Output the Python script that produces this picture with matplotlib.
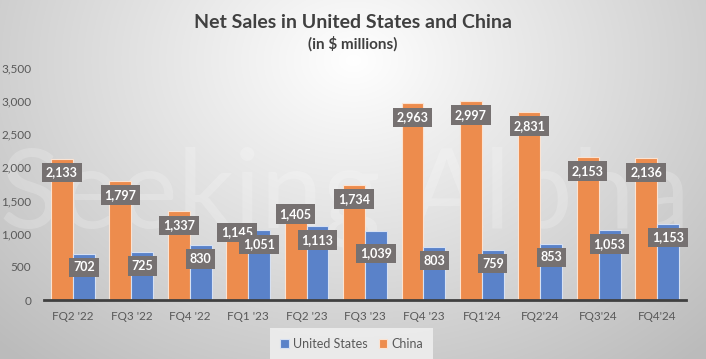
import numpy as np
import matplotlib.pyplot as plt

# data
quarters = ["FQ2 '22", "FQ3 '22", "FQ4 '22", "FQ1 '23", "FQ2 '23", "FQ3 '23",
            "FQ4 '23", "FQ1'24", "FQ2'24", "FQ3'24", "FQ4'24"]
china = [2133, 1797, 1337, 1145, 1405, 1734, 2963, 2997, 2831, 2153, 2136]
united_states = [702, 725, 830, 1051, 1113, 1039, 803, 759, 853, 1053, 1153]

orange = "#ED8C4D"
blue = "#5A82C9"
label_bg = "#767171"

plt.rcParams["font.family"] = ["Lato", "DejaVu Sans"]

fig = plt.figure(figsize=(7.06, 3.59), dpi=100)

# background gradient
bg = fig.add_axes([0, 0, 1, 1], zorder=-10)
yy, xx = np.mgrid[0:359, 0:706]
d = np.sqrt(((xx - 353) / 420) ** 2 + ((yy - 60) / 330) ** 2)
shade = 1.0 - 0.22 * np.clip(d, 0, 1.2)
bg.imshow(np.dstack([shade, shade, shade]), aspect="auto", extent=[0, 1, 0, 1])
bg.set_axis_off()
bg.text(0.0, 0.45, "Seeking Alpha", fontsize=80, color="white", alpha=0.2,
        transform=bg.transAxes, va="center")

ax = fig.add_axes([0.062, 0.164, 0.910, 0.647])
ax.patch.set_alpha(0)

x = np.arange(len(quarters))
w = 0.375
b1 = ax.bar(x - w / 2, china, w, color=orange, edgecolor="#FBE3D2", linewidth=0.8, label="China")
b2 = ax.bar(x + w / 2, united_states, w, color=blue, edgecolor="#D6E0F2", linewidth=0.8, label="United States")

# label offsets below bar top (points); a few were nudged in the original
nudge = {("China", 3): -6, ("China", 4): -5, ("US", 5): -16}
for name, bars, vals in [("China", b1, china), ("US", b2, united_states)]:
    for i, (r, v) in enumerate(zip(bars, vals)):
        ax.annotate(f"{v:,}", (r.get_x() + r.get_width() / 2, v),
                    xytext=(0, nudge.get((name, i), -10)), textcoords="offset points",
                    ha="center", va="center", color="white", fontsize=9,
                    fontweight="bold", zorder=5,
                    bbox=dict(boxstyle="square,pad=0.3", fc=label_bg, ec="none"))

ax.set_xlim(-0.5, len(quarters) - 0.5)
ax.set_ylim(0, 3500)
ax.set_yticks(range(0, 3501, 500))
ax.set_yticklabels([f"{t:,}" for t in range(0, 3501, 500)])
ax.set_xticks(x)
ax.set_xticklabels(quarters)
ax.tick_params(axis="both", length=0, colors="#595959", labelsize=8.5)
ax.tick_params(axis="y", pad=9)
ax.tick_params(axis="x", pad=8)
for s in ["top", "right", "left"]:
    ax.spines[s].set_visible(False)
ax.spines["bottom"].set_color("#404040")
ax.spines["bottom"].set_linewidth(2)

fig.text(0.5, 0.938, "Net Sales in United States and China", ha="center", va="center",
         fontsize=14, fontweight="bold", color="#404040")
fig.text(0.5, 0.878, "(in $ millions)", ha="center", va="center",
         fontsize=11, fontweight="bold", color="#404040")

h, l = ax.get_legend_handles_labels()
leg = fig.legend(h[::-1], l[::-1], loc="center", bbox_to_anchor=(0.498, 0.042), ncol=2,
                 frameon=True, fontsize=9, handlelength=0.7, handleheight=0.7,
                 handletextpad=0.3, columnspacing=0.9, borderpad=0.5)
leg.get_frame().set_facecolor("#F2F2F2")
leg.get_frame().set_alpha(0.8)
leg.get_frame().set_edgecolor("none")
leg.get_frame().set_boxstyle("square")
for t in leg.get_texts():
    t.set_color("#595959")

fig.savefig("out.png", dpi=100)
